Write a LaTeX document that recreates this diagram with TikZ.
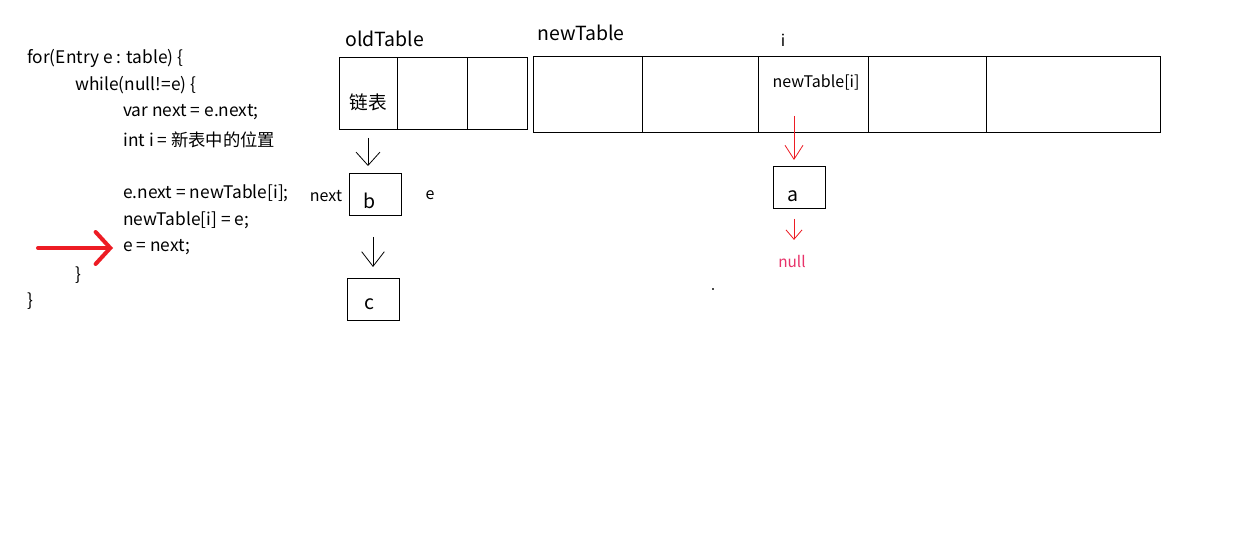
\documentclass[tikz,border=0pt]{standalone}
\usepackage{fontspec}
\setmainfont{Noto Sans CJK SC}
\usetikzlibrary{arrows.meta,calc}
\definecolor{redarrow}{HTML}{ED1C24}
\definecolor{nullred}{HTML}{E8336A}
\begin{document}
\begin{tikzpicture}[x=0.75pt,y=-0.75pt,
  code/.style={anchor=west,inner sep=0,font=\fontsize{13pt}{15pt}\selectfont},
  big/.style={inner sep=0,font=\fontsize{14.6pt}{16pt}\selectfont},
  lbl/.style={inner sep=0,font=\fontsize{12pt}{14pt}\selectfont},
  cellbox/.style 2 args={draw,line width=0.75pt,inner sep=0,outer sep=0,minimum width=#1*0.75pt,minimum height=#2*0.75pt},
  blkarr/.style={line width=0.6pt},
  redthin/.style={draw=redarrow,line width=0.6pt}
]
\useasboundingbox (0,0) rectangle (1259,538);
\fill[white] (0,0) rectangle (1259,538);

% code
\node[code] (l1) at (27,58) {for(Entry e : table) \{};
\node[code] (l2) at (75,85) {while(null!=e) \{};
\node[code] (l3) at (123,112) {var next = e.next;};
\node[code] (l4) at (123,140) {int i = 新表中的位置};
\node[code] (l5) at (123,193) {e.next = newTable[i];};
\node[code] (l6) at (123,220) {newTable[i] = e;};
\node[code] (l7) at (123,247) {e = next;};
\node[code] (l8) at (75,275) {\}};
\node[code] (l9) at (27,301) {\}};

% red pointer
\coordinate (ra1) at (38,248);
\coordinate (ra2) at (113,248);
\draw[redarrow,line width=3pt,line cap=round,-{Straight Barb[length=11pt,width=24pt,line cap=round]}] (ra1) -- (ra2);

% oldTable
\node[big,anchor=west] (oldlbl) at (345,39) {oldTable};
\node[cellbox={58}{72}] (o1) at (368,94) {};
\node[cellbox={70}{72}] (o2) at (432,94) {};
\node[cellbox={60}{72}] (o3) at (497,94) {};
\node[lbl,font=\fontsize{14pt}{16pt}\selectfont] (lb) at (368,102) {链表};

% list b, c
\node[cellbox={52}{42}] (b) at (375,195) {};
\node[big] (btxt) at (370,201) {b};
\node[cellbox={52}{42}] (c) at (373,299) {};
\node[big] (ctxt) at (369,304) {c};
\node[lbl] (nextlbl) at (326,196) {next};
\node[lbl] (elbl) at (430,195) {e};

\draw[blkarr,-{Straight Barb[length=10pt,width=18pt]},shorten <=6pt,shorten >=6pt] (o1.south) -- (o1.south |- b.north);
\draw[blkarr,-{Straight Barb[length=11pt,width=17pt]},shorten <=15.75pt,shorten >=8.25pt] (c.north |- b.south) -- (c.north);

% newTable
\node[big,anchor=west] (newlbl) at (537,33) {newTable};
\node[cellbox={109}{76}] (n1) at (587.5,95) {};
\node[cellbox={116}{76}] (n2) at (700,95) {};
\node[cellbox={110}{76}] (n3) at (813,95) {};
\node[cellbox={118}{76}] (n4) at (927,95) {};
\node[cellbox={174}{76}] (n5) at (1073,95) {};
\node[lbl] (ilbl) at (783,40) {i};
\node[lbl] (ntlbl) at (816,82) {newTable[i]};

% a and null
\node[cellbox={52}{42}] (a) at (799,188) {};
\node[big] (atxt) at (793,196) {a};
\node[lbl,text=nullred,font=\fontsize{11.5pt}{14pt}\selectfont] (null) at (792,261) {null};
\coordinate (rs) at (794,116);
\draw[redthin,-{Straight Barb[length=10.5pt,width=13.5pt]},shorten >=5.25pt] (rs) -- ([xshift=-3.75pt]a.north);
\draw[redthin,-{Straight Barb[length=7pt,width=12pt]},shorten <=7.5pt,shorten >=11pt] ([xshift=-3.75pt]a.south) -- ([xshift=-3.75pt]a.south |- null.north);

% stray dot
\fill[black!70] (712,288) rectangle (714,290);
\end{tikzpicture}
\end{document}
